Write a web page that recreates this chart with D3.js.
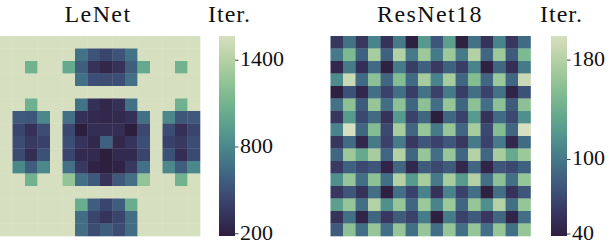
<!DOCTYPE html>
<html>
<head>
<meta charset="utf-8">
<script src="https://cdn.jsdelivr.net/npm/d3@7"></script>
<style>
  body { margin: 0; background: #fff; }
  text { font-family: "Liberation Serif", serif; fill: #111; }
</style>
</head>
<body>
<svg id="chart" width="610" height="244"></svg>
<script>
// iterations per cell, 16 x 16
const lenetIters = [
  [1564,1564,1564,1564,1564,1564,1564,1564,1564,1564,1564,1564,1564,1564,1564,1564],
  [1564,1564,1564,1564,1564,1564, 677, 510, 427, 510, 677,1564,1564,1564,1564,1564],
  [1564,1564,1081,1564,1564,1012, 566, 315, 246, 315, 566,1012,1564,1564,1081,1564],
  [1564,1564,1564,1564,1564,1564, 664, 482, 468, 482, 664,1564,1564,1564,1564,1564],
  [1564,1564,1564,1564,1564,1564,1564,1564,1564,1564,1564,1564,1564,1564,1564,1564],
  [1564,1564,1070,1564,1564,1564, 677, 301, 246, 301, 677,1564,1564,1564,1070,1564],
  [1564, 538, 524, 803,1564, 664, 301, 260, 246, 260, 301, 664,1564, 803, 524, 538],
  [1564, 427, 301, 468,1564, 441, 181, 287, 287, 287, 181, 441,1564, 468, 301, 427],
  [1564, 468, 357, 399,1564, 482, 329, 246, 580, 246, 329, 482,1564, 399, 357, 468],
  [1564, 455, 287, 496,1564, 427, 260, 260, 181, 260, 260, 427,1564, 496, 287, 455],
  [1564, 803, 566, 803,1564, 664, 357, 218, 185, 218, 357, 664,1564, 803, 566, 803],
  [1564,1564,1081,1564,1564,1249, 664, 538, 315, 538, 664,1249,1564,1564,1081,1564],
  [1564,1564,1564,1564,1564,1564,1564,1564,1564,1564,1564,1564,1564,1564,1564,1564],
  [1564,1564,1564,1564,1564,1564,1040, 566, 427, 566,1040,1564,1564,1564,1564,1564],
  [1564,1564,1564,1564,1564,1564, 650, 427, 329, 427, 650,1564,1564,1564,1564,1564],
  [1564,1564,1564,1564,1564,1564, 650, 468, 566, 468, 650,1564,1564,1564,1564,1564]
];
const resnetIters = [
  [ 57, 96, 57,107, 54,101, 39,122, 78,127, 40, 96, 54,107, 57, 91],
  [101,151, 85,173, 85,180,101,168,101,168,101,180, 88,168, 81,151],
  [ 46,101, 51, 91, 40,101, 62, 85, 59, 85, 62,107, 40, 88, 51,101],
  [112,191, 91,159, 88,154, 91,173,107,173, 88,154, 88,168, 88,191],
  [ 39, 75, 46, 94, 65, 94, 62, 96, 65,101, 62, 94, 65, 96, 43, 75],
  [ 96,159, 81,164, 94,159, 88,159, 94,164, 88,159, 94,159, 81,159],
  [ 57,122, 69, 91, 54,122, 65, 88, 38, 88, 65,122, 54, 91, 69,115],
  [107,199, 88,154, 69,173, 88,164,101,164, 88,173, 69,154, 88,199],
  [ 57, 91, 46,101, 65,101, 57, 78, 65, 78, 57,101, 65,101, 46, 91],
  [ 88,168,135,173, 88,180, 88,164, 94,164, 88,180, 88,173,135,168],
  [ 59, 85, 69, 78, 43, 88, 46, 81, 69, 81, 46, 88, 43, 78, 69, 85],
  [115,164, 94,159, 94,180,122,173,101,173,122,180, 94,159, 94,164],
  [ 57, 78, 54, 94, 39, 94, 65,107, 54,107, 65, 94, 39, 94, 54, 78],
  [127,164, 94,180,115,164, 88,168,107,168, 88,164,115,180, 94,164],
  [ 54, 94, 43, 88, 57, 81, 65,102, 39,102, 65, 81, 57, 88, 43, 94],
  [ 81,159, 94,164, 94,164, 94,164, 94,164, 94,164, 94,164, 94,164]
];
const titles = ["LeNet", "ResNet18"];
const lenetTicks = [200, 800, 1400];
const resnetTicks = [40, 100, 180];

// seaborn cubehelix_palette(start=.5, rot=-.75), low = dark
function cubehelix(t) {
  const x = 0.15 + 0.7 * t;
  const start = 0.5, rot = -0.75, hue = 0.8;
  const a = hue * x * (1 - x) / 2;
  const phi = 2 * Math.PI * (start / 3 + rot * x);
  const c = Math.cos(phi), s = Math.sin(phi);
  const r = x + a * (-0.14861 * c + 1.78277 * s);
  const g = x + a * (-0.29227 * c - 0.90649 * s);
  const b = x + a * (1.97294 * c);
  const f = v => Math.round(255 * Math.max(0, Math.min(1, v)));
  return d3.rgb(f(r), f(g), f(b)).formatHex();
}

const svg = d3.select("#chart");
const mapTop = 36, mapSize = 200;

const panels = [
  {title: titles[0], data: lenetIters, ticks: lenetTicks, x0: 0, cbx: 219, tx: 98},
  {title: titles[1], data: resnetIters, ticks: resnetTicks, x0: 330.5, cbx: 551, tx: 430}
];

panels.forEach((p, pi) => {
  const g = svg.append("g");
  const n = p.data.length;
  const xs = d3.scaleBand().domain(d3.range(n)).range([p.x0, p.x0 + mapSize]);
  const ys = d3.scaleBand().domain(d3.range(n)).range([mapTop, mapTop + mapSize]);
  const ext = d3.extent(p.data.flat());
  const color = d3.scaleSequential(cubehelix).domain(ext);

  const cells = [];
  p.data.forEach((row, r) => row.forEach((v, c) => cells.push({r, c, v})));

  g.selectAll("rect.cell")
    .data(cells)
    .enter()
    .append("rect")
    .attr("class", "cell")
    .attr("x", d => xs(d.c))
    .attr("y", d => ys(d.r))
    .attr("width", xs.bandwidth() + 0.3)
    .attr("height", ys.bandwidth() + 0.3)
    .attr("fill", d => color(d.v));

  g.append("text")
    .attr("x", p.tx)
    .attr("y", 22)
    .attr("text-anchor", "middle")
    .attr("font-size", 24)
    .attr("letter-spacing", 1.4)
    .text(p.title);

  // colorbar
  const cbw = 16;
  const grad = svg.append("defs").append("linearGradient")
    .attr("id", "grad" + pi)
    .attr("x1", 0).attr("y1", 1).attr("x2", 0).attr("y2", 0);
  d3.range(0, 1.0001, 0.02).forEach(t => {
    grad.append("stop").attr("offset", t).attr("stop-color", cubehelix(t));
  });
  g.append("rect")
    .attr("x", p.cbx)
    .attr("y", mapTop)
    .attr("width", cbw)
    .attr("height", mapSize)
    .attr("fill", "url(#grad" + pi + ")");

  const cs = d3.scaleLinear().domain(ext).range([mapTop + mapSize, mapTop]);
  const axis = g.append("g")
    .attr("transform", `translate(${p.cbx + cbw},0)`)
    .call(d3.axisRight(cs).tickValues(p.ticks).tickFormat(d3.format("d"))
      .tickSize(3.5).tickPadding(1.5));
  axis.select(".domain").remove();
  axis.selectAll(".tick line").attr("stroke", "#111").attr("stroke-width", 0.8);
  axis.selectAll(".tick text")
    .attr("font-family", "Liberation Serif, serif")
    .attr("font-size", 22)
    .attr("dy", "0.27em")
    .attr("fill", "#111");

  g.append("text")
    .attr("x", p.cbx - 11)
    .attr("y", 22)
    .attr("font-size", 24)
    .attr("letter-spacing", 1)
    .text("Iter.");
});
</script>
</body>
</html>
